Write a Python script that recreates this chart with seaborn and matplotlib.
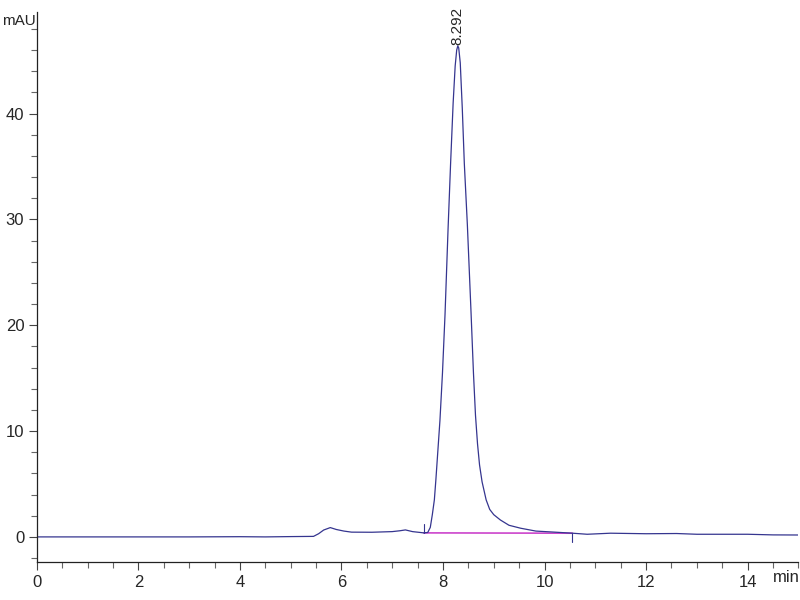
import matplotlib
matplotlib.use("Agg")
import matplotlib.pyplot as plt
from matplotlib.ticker import MultipleLocator
import seaborn as sns
import pandas as pd

# chromatogram trace (time in min, signal in mAU)
time_min = [0.0, 1.0, 2.0, 3.0, 4.0, 4.5, 5.0, 5.45, 5.55, 5.65, 5.78, 5.9, 6.05, 6.2,
            6.6, 7.0, 7.15, 7.26, 7.4, 7.55, 7.62, 7.70, 7.75, 7.79, 7.83, 7.86, 7.90,
            7.94, 7.99, 8.04, 8.10, 8.15, 8.20, 8.24, 8.27, 8.292, 8.31, 8.34, 8.38,
            8.42, 8.48, 8.55, 8.60, 8.64, 8.68, 8.72, 8.77, 8.85, 8.92, 9.00, 9.13,
            9.30, 9.53, 9.83, 10.2, 10.55, 10.84, 11.3, 12.0, 12.6, 13.0, 14.0, 14.5, 15.0]
signal_mau = [0.0, 0.0, 0.0, 0.0, 0.02, 0.0, 0.03, 0.05, 0.3, 0.65, 0.88, 0.7, 0.55, 0.45,
              0.44, 0.5, 0.58, 0.66, 0.5, 0.42, 0.38, 0.42, 0.9, 2.1, 3.5, 5.4, 8.2,
              11.0, 15.5, 21.0, 29.1, 35.3, 41.0, 44.5, 46.0, 46.4, 46.2, 44.8, 40.5,
              35.3, 29.5, 21.5, 15.5, 11.5, 8.8, 6.8, 5.2, 3.5, 2.6, 2.1, 1.6,
              1.1, 0.82, 0.55, 0.45, 0.35, 0.25, 0.35, 0.3, 0.32, 0.25, 0.25, 0.19, 0.18]

# integration baseline under the main peak
baseline_t = [7.62, 10.55]
baseline_y = [0.38, 0.35]

peak_rt = 8.292
peak_label = "8.292"

sns.set_style("ticks")
plt.rcParams["font.family"] = ["Liberation Sans Narrow", "Liberation Sans", "DejaVu Sans"]

df = pd.DataFrame({"t": time_min, "mAU": signal_mau})
base = pd.DataFrame({"t": baseline_t, "mAU": baseline_y})

fig = plt.figure(figsize=(8, 6), dpi=100)
ax = fig.add_axes([0.046, 0.063, 0.952, 0.917])

sns.lineplot(data=base, x="t", y="mAU", color="#cc44cc", linewidth=1.2, ax=ax)
sns.lineplot(data=df, x="t", y="mAU", estimator=None, sort=False,
             color="#35358f", linewidth=0.9, ax=ax)

# start / end markers of the integration
ax.plot([baseline_t[0], baseline_t[0]], [baseline_y[0], baseline_y[0] + 0.8], color="#35358f", lw=0.8)
ax.plot([baseline_t[1], baseline_t[1]], [baseline_y[1] - 0.8, baseline_y[1]], color="#35358f", lw=0.8)

ax.text(peak_rt, 46.5, peak_label, rotation=90, ha="center", va="bottom", fontsize=11)

ax.set_xlim(0, 15)
ax.set_ylim(-2.39, 49.6)
ax.xaxis.set_major_locator(MultipleLocator(2))
ax.xaxis.set_minor_locator(MultipleLocator(0.5))
ax.yaxis.set_major_locator(MultipleLocator(10))
ax.yaxis.set_minor_locator(MultipleLocator(2))
ax.tick_params(which="major", length=6, width=0.8, color="#444444", labelsize=12, pad=3)
ax.tick_params(which="minor", length=4, width=0.8, color="#666666")
ax.set_xlabel("")
ax.set_ylabel("")
for s in ["left", "bottom"]:
    ax.spines[s].set_color("#222222")
    ax.spines[s].set_linewidth(0.9)
sns.despine(ax=ax)

fig.text(0.002, 0.965, "mAU", fontsize=11, ha="left", va="center")
fig.text(0.9995, 0.037, "min", fontsize=12, ha="right", va="center")

fig.savefig("out.png", dpi=100)
